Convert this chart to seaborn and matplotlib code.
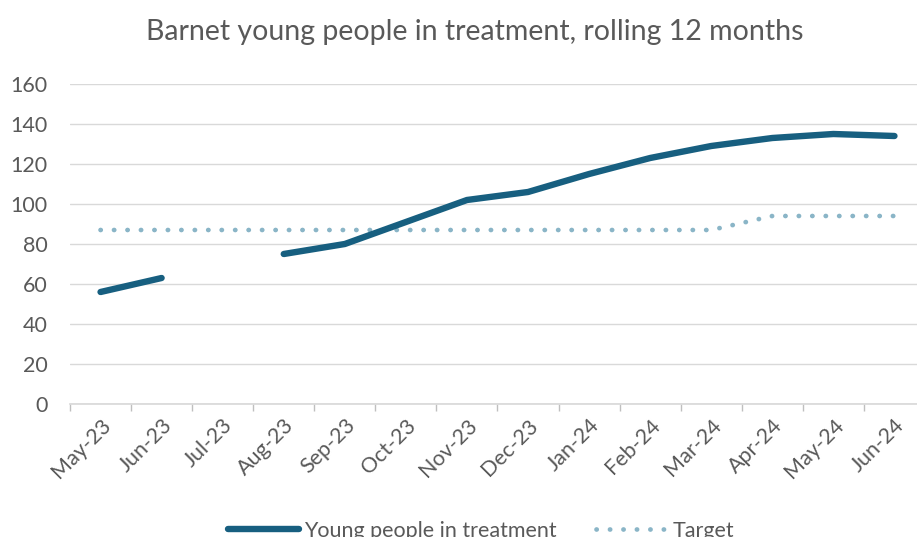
import numpy as np
import pandas as pd
import seaborn as sns
import matplotlib.pyplot as plt
from matplotlib.lines import Line2D

# data
months = ['May-23', 'Jun-23', 'Jul-23', 'Aug-23', 'Sep-23', 'Oct-23', 'Nov-23',
          'Dec-23', 'Jan-24', 'Feb-24', 'Mar-24', 'Apr-24', 'May-24', 'Jun-24']
treatment = [56, 63, np.nan, 75, 80, 91, 102, 106, 115, 123, 129, 133, 135, 134]
target = [87, 87, 87, 87, 87, 87, 87, 87, 87, 87, 87, 94, 94, 94]

MAIN = '#175F80'
TARGET = '#8AB5C7'
GREY = '#595959'

sns.set_theme(style='white')
plt.rcParams['font.family'] = ['Lato', 'DejaVu Sans']

df = pd.DataFrame({'month': months, 'pos': range(len(months)),
                   'treatment': treatment, 'target': target})
# split treatment into segments so the Jul-23 gap stays open
df['seg'] = df['treatment'].isna().cumsum()

fig = plt.figure(figsize=(9.17, 5.37), dpi=100)
ax = fig.add_axes([70 / 917, (537 - 404) / 537, 855 / 917, 320 / 537])

sns.lineplot(data=df, x='pos', y='target', color=TARGET, ax=ax, lw=3.4)
ax.lines[-1].set_linestyle((0, (0.05, 2.8)))
ax.lines[-1].set_dash_capstyle('round')

for _, part in df.dropna(subset=['treatment']).groupby('seg'):
    sns.lineplot(data=part, x='pos', y='treatment', color=MAIN, ax=ax, lw=4.6)
    ax.lines[-1].set_solid_capstyle('round')

ax.set_xlim(-0.5, len(months) - 0.5)
ax.set_ylim(0, 160)
ax.set_yticks(range(0, 161, 20))
ax.set_xticks(df['pos'])
ax.set_xticklabels(months, rotation=45, ha='right', rotation_mode='anchor')
ax.set_xticks(np.arange(-0.5, len(months), 1), minor=True)
ax.tick_params(axis='x', which='major', length=0, pad=8, labelsize=15.5, labelcolor=GREY)
ax.tick_params(axis='x', which='minor', length=5, width=1, color='#BFBFBF', bottom=True)
ax.tick_params(axis='y', length=0, pad=16, labelsize=15.5, labelcolor=GREY)
ax.grid(axis='y', color='#D9D9D9', lw=1)
ax.set_axisbelow(True)
for s in ['left', 'right', 'top']:
    ax.spines[s].set_visible(False)
ax.spines['bottom'].set_color('#D9D9D9')
ax.set_xlabel('')
ax.set_ylabel('')

fig.text(475 / 917, 1 - 32 / 537, 'Barnet young people in treatment, rolling 12 months',
         ha='center', va='center', fontsize=20.5, color=GREY)

handles = [Line2D([], [], color=MAIN, lw=4.6, solid_capstyle='round'),
           Line2D([], [], color=TARGET, lw=3.4, linestyle=(0, (0.05, 2.8)),
                  dash_capstyle='round')]
fig.legend(handles, ['Young people in treatment', 'Target'], loc='center',
           bbox_to_anchor=(481 / 917, 1 - 531 / 537), ncol=2, frameon=False,
           fontsize=15.5, labelcolor=GREY, handlelength=3.3, columnspacing=1.8,
           handletextpad=0.25)

fig.savefig('out.png', dpi=100)
